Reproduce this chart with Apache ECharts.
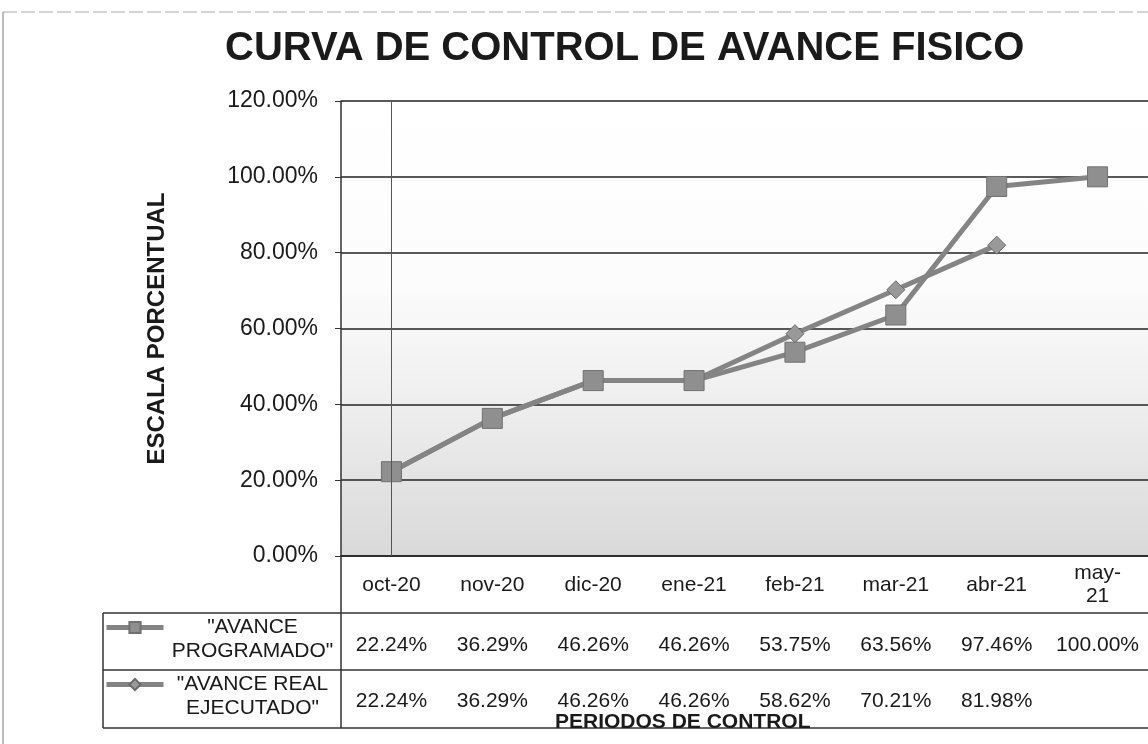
<!DOCTYPE html>
<html>
<head>
<meta charset="utf-8">
<script src="https://cdn.jsdelivr.net/npm/echarts@6/dist/echarts.min.js"></script>
<style>
  html, body { margin: 0; padding: 0; background: #fff; }
  #main { width: 1148px; height: 744px; }
</style>
</head>
<body>
<div id="main"></div>
<script>
var periodos = ['oct-20', 'nov-20', 'dic-20', 'ene-21', 'feb-21', 'mar-21', 'abr-21', 'may-21'];
var programado = [22.24, 36.29, 46.26, 46.26, 53.75, 63.56, 97.46, 100.00];
var ejecutado = [22.24, 36.29, 46.26, 46.26, 58.62, 70.21, 81.98, null];
var nomProg = '"AVANCE PROGRAMADO"';
var nomReal = '"AVANCE REAL EJECUTADO"';

var fuente = '"Liberation Sans", Arial, sans-serif';
var negro = '#1a1a1a';

var chartDom = document.getElementById('main');
var myChart = echarts.init(chartDom);
var option;

function pct(v) {
  return v.toFixed(2) + '%';
}

// a table row: one label per period, placed on the period's category
function filaTabla(nombre, valores, idx, dy) {
  var data = [];
  for (var i = 0; i < valores.length; i++) {
    if (valores[i] != null) data.push([periodos[i], nombre, valores[i]]);
  }
  return {
    type: 'scatter',
    name: nombre + ' tabla',
    xAxisIndex: idx,
    yAxisIndex: idx,
    symbolSize: 0,
    silent: true,
    itemStyle: { opacity: 1 },
    data: data,
    encode: { x: 0, y: 1 },
    label: {
      show: true,
      position: 'inside',
      offset: [0, dy],
      formatter: function (p) { return pct(p.value[2]); },
      fontFamily: fuente,
      fontSize: 21,
      color: negro,
      opacity: 1
    }
  };
}

function nombreLeyenda(name) {
  var w = name.split(' ');
  var ultima = w.pop();
  return '{t|' + w.join(' ') + '}\n{t|' + ultima + '}';
}

var leyendaBase = {
  orient: 'vertical',
  left: 104,
  itemWidth: 57,
  itemHeight: 14,
  padding: 0,
  selectedMode: false,
  formatter: nombreLeyenda,
  lineStyle: { width: 5, color: '#848484' },
  textStyle: {
    padding: [24, 0, 0, 0],
    rich: {
      t: { width: 168, align: 'center', fontSize: 21, lineHeight: 24, color: negro, fontFamily: fuente }
    }
  }
};

var linea = function (x1, y1, x2, y2, color, w) {
  return { type: 'line', shape: { x1: x1, y1: y1, x2: x2, y2: y2 }, style: { stroke: color, lineWidth: w }, silent: true };
};

option = {
  animation: false,
  textStyle: { fontFamily: fuente },
  title: {
    text: 'CURVA DE CONTROL DE AVANCE FISICO',
    left: 220,
    top: 24,
    textStyle: { fontSize: 40, fontWeight: 'bold', color: negro, fontFamily: fuente }
  },
  legend: [
    echarts.util.merge({ top: 617, data: [nomProg] }, leyendaBase, false),
    echarts.util.merge({ top: 674, data: [nomReal] }, leyendaBase, false)
  ],
  grid: [
    {
      left: 341, top: 101, width: 808, height: 455,
      show: true, borderWidth: 0,
      backgroundColor: new echarts.graphic.LinearGradient(0, 0, 0, 1, [
        { offset: 0, color: '#ffffff' },
        { offset: 0.4, color: '#fcfcfc' },
        { offset: 0.65, color: '#efefef' },
        { offset: 1, color: '#d9d9d9' }
      ])
    },
    { left: 341, top: 613, width: 808, height: 57 },
    { left: 341, top: 670, width: 808, height: 58 }
  ],
  xAxis: [
    {
      type: 'category',
      gridIndex: 0,
      data: periodos,
      boundaryGap: true,
      axisLine: { show: true, lineStyle: { color: '#222', width: 1.5 } },
      axisTick: { show: false },
      axisLabel: {
        margin: 29,
        verticalAlign: 'middle',
        fontSize: 21,
        lineHeight: 23,
        color: negro,
        formatter: function (v) { return v.replace('may-', 'may-\n'); }
      }
    },
    { type: 'category', gridIndex: 1, data: periodos, show: false },
    { type: 'category', gridIndex: 2, data: periodos, show: false }
  ],
  yAxis: [
    {
      type: 'value',
      gridIndex: 0,
      min: 0,
      max: 120,
      interval: 20,
      name: 'ESCALA PORCENTUAL',
      nameLocation: 'middle',
      nameGap: 172,
      nameTextStyle: { fontSize: 24, fontWeight: 'bold', color: negro },
      axisLine: { show: true, lineStyle: { color: '#333', width: 1.5 } },
      axisTick: { show: true, length: 6, lineStyle: { color: '#333' } },
      axisLabel: { margin: 23, fontSize: 23, color: negro, formatter: pct },
      splitLine: { lineStyle: { color: '#222', width: 1.5 } }
    },
    { type: 'category', gridIndex: 1, data: [nomProg], show: false },
    { type: 'category', gridIndex: 2, data: [nomReal], show: false }
  ],
  series: [
    {
      type: 'line',
      name: nomReal,
      data: ejecutado,
      symbol: 'diamond',
      symbolSize: 18,
      lineStyle: { color: '#848484', width: 5 },
      itemStyle: { color: '#999999', borderColor: '#6a6a6a', borderWidth: 1 },
      markLine: {
        silent: true,
        symbol: 'none',
        label: { show: false },
        lineStyle: { color: '#555', width: 1, type: 'solid' },
        data: [{ xAxis: periodos[0] }]
      }
    },
    {
      type: 'line',
      name: nomProg,
      data: programado,
      symbol: 'rect',
      symbolSize: 20,
      lineStyle: { color: '#848484', width: 5 },
      itemStyle: { color: '#8f8f8f', borderColor: '#707070', borderWidth: 1 }
    },
    filaTabla(nomProg, programado, 1, 4),
    filaTabla(nomReal, ejecutado, 2, 2)
  ],
  graphic: [
    // table borders
    linea(103, 613, 1148, 613, '#333', 1.5),
    linea(103, 670, 1148, 670, '#333', 1.5),
    linea(103, 728, 1148, 728, '#333', 1.5),
    linea(103, 613, 103, 728, '#333', 1.5),
    linea(341, 556, 341, 728, '#333', 1.5),
    // page frame
    linea(3, 12, 3, 744, '#777', 1),
    { type: 'line', shape: { x1: 3, y1: 12, x2: 1148, y2: 12 }, style: { stroke: '#aaa', lineWidth: 1, lineDash: [14, 4] }, silent: true },
    {
      type: 'text',
      left: 555,
      top: 712,
      style: { text: 'PERIODOS DE CONTROL', fontSize: 21, fontWeight: 'bold', fill: negro, fontFamily: fuente }
    }
  ]
};

option && myChart.setOption(option);
</script>
</body>
</html>
